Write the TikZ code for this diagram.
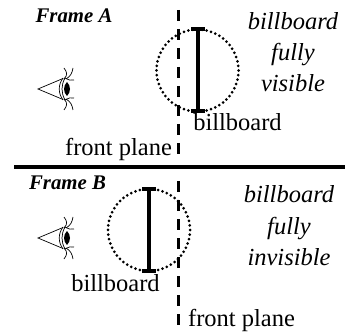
\documentclass[tikz,border=0pt]{standalone}
\usepackage{fontspec}
\setmainfont{Liberation Serif}
\tikzset{
  x=1pt,y=-1pt,
  plain/.style={font=\fontsize{24.5}{24.5}\selectfont,anchor=base,inner sep=0pt},
  slant/.style={font=\fontsize{24.5}{24.5}\selectfont\itshape,anchor=base,inner sep=0pt},
  frame/.style={font=\fontsize{20.8}{20.8}\selectfont\bfseries\itshape,anchor=base,inner sep=0pt},
  plane/.style={line width=3pt,dash pattern=on 11pt off 8pt},
  dotcircle/.style={line width=3pt,line cap=round,dash pattern=on 0pt off 4.6pt},
  board/.style={line width=3.4pt},
  eyeline/.style={line width=0.7pt},
  pics/eye/.style={code={
    \draw[eyeline] (25,-10.5) -- (0,0) -- (25,10.5);
    \draw[eyeline] (25,-11) .. controls (20,-4) and (20,4) .. (25,11);
    \draw[eyeline] (27,-11) .. controls (23,-4) and (23,4) .. (27,11);
    \fill (29,-7) .. controls (33,-3) and (33,3) .. (29,7) .. controls (25,3) and (25,-3) .. (29,-7) -- cycle;
    \draw[eyeline] (26,-10) .. controls (30,-14) and (29,-17) .. (26,-21);
    \draw[eyeline] (28,-10) .. controls (33,-13) and (34,-16) .. (35,-21);
    \draw[eyeline] (27,-11) .. controls (31,-9) and (33,-8) .. (36,-9);
    \draw[eyeline] (26,10) .. controls (30,14) and (29,17) .. (26,21);
    \draw[eyeline] (28,10) .. controls (33,13) and (34,16) .. (35,21);
    \draw[eyeline] (27,11) .. controls (31,9) and (33,8) .. (36,9);
  }}
}
\begin{document}
\begin{tikzpicture}
\useasboundingbox (0,0) rectangle (347,336);
% rule
\draw[line width=3.6pt] (14,167) -- (345,167);
% Frame A
\node[frame] (frameA) at (74,23) {Frame A};
\pic at (38,89) {eye};
\draw[plane] (178,10) -- (178,157);
\draw[dotcircle] (197.5,70.5) circle (41);
\draw[board] (198,29) -- (198,111);
\draw[board] (191,29) -- (205,29);
\draw[board] (191,111) -- (205,111);
\node[plain] (bbA) at (237.5,131) {billboard};
\node[plain] (fpA) at (118.5,156) {front plane};
\node[slant] (a1) at (293,30) {billboard};
\node[slant] (a2) at (293,61) {fully};
\node[slant] (a3) at (293,92) {visible};
% Frame B
\node[frame] (frameB) at (67.5,190) {Frame B};
\pic at (38,238) {eye};
\draw[plane] (178,181) -- (178,328);
\draw[dotcircle] (149,230) circle (41);
\draw[board] (149,189) -- (149,271);
\draw[board] (142,189) -- (156,189);
\draw[board] (142,271) -- (156,271);
\node[plain] (bbB) at (115.5,291) {billboard};
\node[plain] (fpB) at (241.5,326) {front plane};
\node[slant] (b1) at (289,203) {billboard};
\node[slant] (b2) at (289,234) {fully};
\node[slant] (b3) at (289,265) {invisible};
\end{tikzpicture}
\end{document}
